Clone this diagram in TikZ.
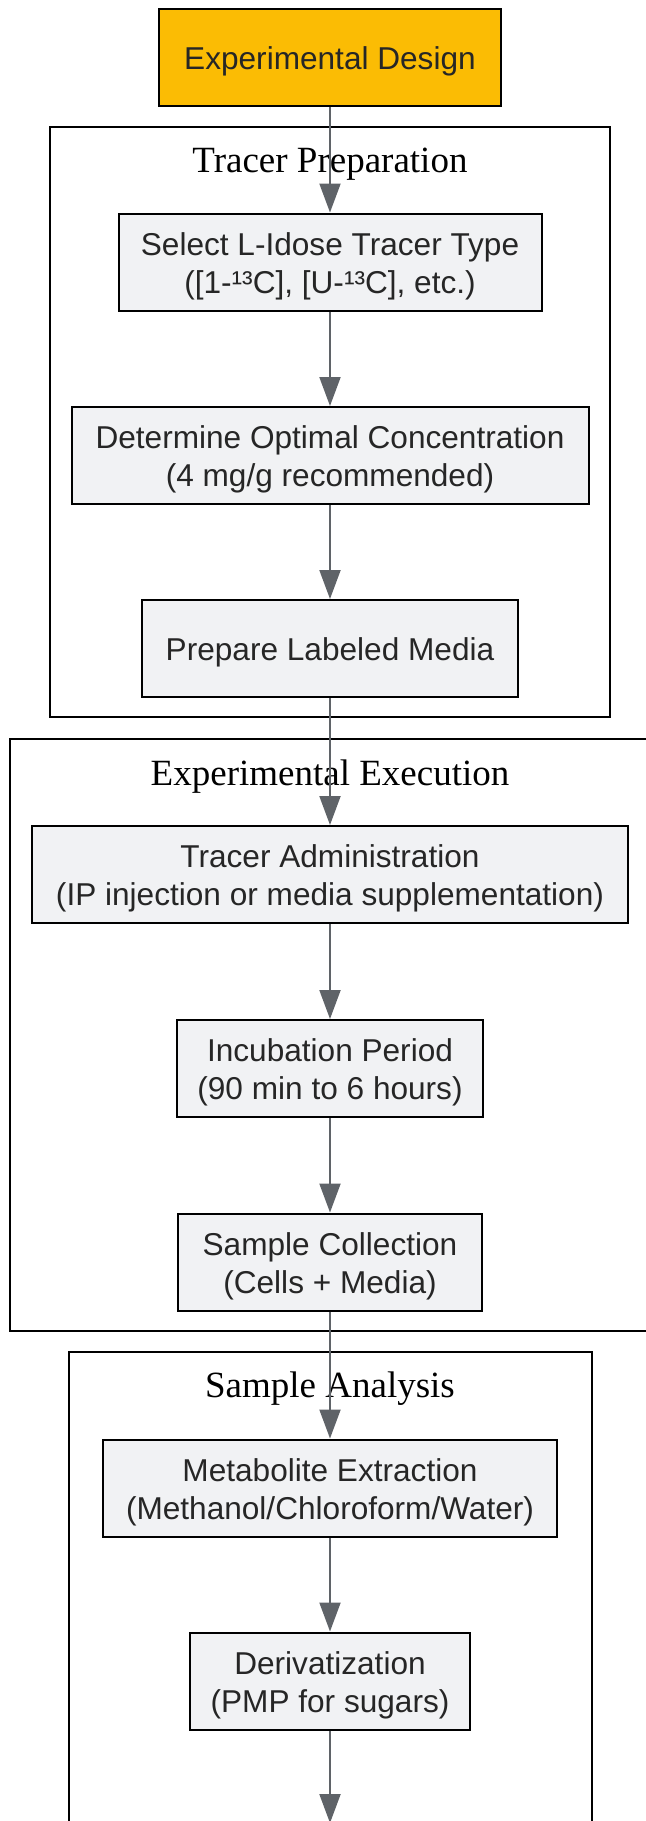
\documentclass[tikz,border=0pt]{standalone}
\usepackage{fontspec}
\setmainfont{Liberation Sans}
\newfontfamily\titlefont{Liberation Serif}
\usetikzlibrary{arrows.meta}
\definecolor{nodefill}{HTML}{F1F2F4}
\definecolor{designfill}{HTML}{FBBC04}
\definecolor{edgecol}{HTML}{5F6368}
\definecolor{txtcol}{HTML}{262626}
\newcommand{\lowerstrut}{\rule{0pt}{23.3pt}}
\begin{document}
\begin{tikzpicture}[x=0.75pt,y=-0.75pt,
  stepbox/.style={draw=black, line width=1.5pt, fill=nodefill, inner sep=0pt,
    align=center, text=txtcol, font=\fontsize{23.7pt}{28.5pt}\selectfont,
    minimum height=72.75pt},
  clusterbox/.style={draw=black, line width=1.5pt, fill=none, inner sep=0pt},
  clustertitle/.style={anchor=base, inner sep=0pt, text=black,
    font=\titlefont\fontsize{27.75pt}{32pt}\selectfont},
  edge/.style={draw=edgecol, line width=1.5pt,
    -{Triangle[length=21.75pt,width=15.75pt]}}]
\useasboundingbox (0,0) rectangle (646,1821);
\clip (0,0) rectangle (646,1821);

% clusters
\node[clusterbox, minimum width=420pt, minimum height=442.5pt] (c1) at (330,422) {};
\node[clusterbox, minimum width=480.75pt, minimum height=444pt] (c2) at (330,1035) {};
\node[clusterbox, minimum width=392.25pt, minimum height=411pt] (c3) at (330,1626) {};
\node[clustertitle] (t1) at (330,172.7) {Tracer Preparation};
\node[clustertitle] (t2) at (330,785) {Experimental Execution};
\node[clustertitle] (t3) at (330,1397) {Sample Analysis};

% nodes
\node[stepbox, fill=designfill, minimum width=256.5pt] (A) at (330,57.5) {\lowerstrut Experimental Design};
\node[stepbox, minimum width=317.25pt] (B) at (330,262) {\lowerstrut Select L-Idose Tracer Type\\([1-¹³C], [U-¹³C], etc.)};
\node[stepbox, minimum width=387.75pt] (C) at (330,455.5) {\lowerstrut Determine Optimal Concentration\\(4 mg/g recommended)};
\node[stepbox, minimum width=282pt] (D) at (330,648.5) {\lowerstrut Prepare Labeled Media};
\node[stepbox, minimum width=447pt] (E) at (330,874.5) {\lowerstrut Tracer Administration\\(IP injection or media supplementation)};
\node[stepbox, minimum width=229.5pt] (F) at (330,1068.5) {\lowerstrut Incubation Period\\(90 min to 6 hours)};
\node[stepbox, minimum width=228pt] (G) at (330,1262) {\lowerstrut Sample Collection\\(Cells + Media)};
\node[stepbox, minimum width=340.5pt] (H) at (330,1488) {\lowerstrut Metabolite Extraction\\(Methanol/Chloroform/Water)};
\node[stepbox, minimum width=210pt] (I) at (330,1681) {\lowerstrut Derivatization\\(PMP for sugars)};
\coordinate (J) at (330,1823);

% edges
\draw[edge] (A) -- (B);
\draw[edge] (B) -- (C);
\draw[edge] (C) -- (D);
\draw[edge] (D) -- (E);
\draw[edge] (E) -- (F);
\draw[edge] (F) -- (G);
\draw[edge] (G) -- (H);
\draw[edge] (H) -- (I);
\draw[edge] (I) -- (J);
\end{tikzpicture}
\end{document}
